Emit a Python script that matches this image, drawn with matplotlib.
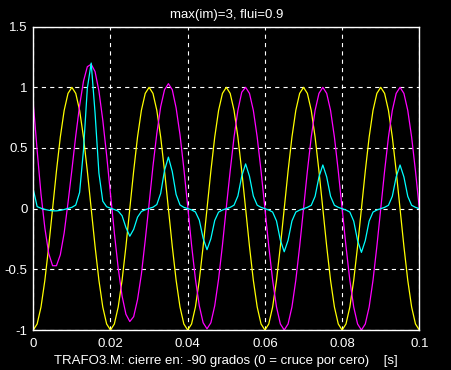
import numpy as np
import matplotlib
matplotlib.use('Agg')
import matplotlib.pyplot as plt

# sample times (s), 1 ms step
t = np.linspace(0, 0.1, 101)

# tension (yellow)
volt = [-1, -0.95, -0.81, -0.59, -0.31, 0, 0.31, 0.59, 0.81, 0.95,
        1, 0.95, 0.81, 0.59, 0.31, 0, -0.31, -0.59, -0.81, -0.95,
        -1, -0.95, -0.81, -0.59, -0.31, 0, 0.31, 0.59, 0.81, 0.95,
        1, 0.95, 0.81, 0.59, 0.31, 0, -0.31, -0.59, -0.81, -0.95,
        -1, -0.95, -0.81, -0.59, -0.31, 0, 0.31, 0.59, 0.81, 0.95,
        1, 0.95, 0.81, 0.59, 0.31, 0, -0.31, -0.59, -0.81, -0.95,
        -1, -0.95, -0.81, -0.59, -0.31, 0, 0.31, 0.59, 0.81, 0.95,
        1, 0.95, 0.81, 0.59, 0.31, 0, -0.31, -0.59, -0.81, -0.95,
        -1, -0.95, -0.81, -0.59, -0.31, 0, 0.31, 0.59, 0.81, 0.95,
        1, 0.95, 0.81, 0.59, 0.31, 0, -0.31, -0.59, -0.81, -0.95,
        -1]

# flujo (magenta)
flux = [0.87, 0.48, 0.12, -0.16, -0.37, -0.47, -0.47, -0.38, -0.20, 0.05,
        0.32, 0.60, 0.85, 1.05, 1.17, 1.19, 1.13, 0.97, 0.73, 0.44,
        0.12, -0.20, -0.49, -0.72, -0.87, -0.93, -0.89, -0.75, -0.54, -0.26,
        0.04, 0.35, 0.62, 0.84, 0.98, 1.03, 0.98, 0.83, 0.61, 0.33,
        0.02, -0.30, -0.58, -0.80, -0.94, -0.99, -0.94, -0.80, -0.58, -0.30,
        0.01, 0.31, 0.59, 0.81, 0.96, 1.00, 0.95, 0.81, 0.59, 0.31,
        0.00, -0.31, -0.59, -0.81, -0.95, -1.00, -0.95, -0.81, -0.59, -0.31,
        0.00, 0.31, 0.59, 0.81, 0.95, 1.00, 0.95, 0.81, 0.59, 0.31,
        0.00, -0.31, -0.59, -0.81, -0.95, -1.00, -0.95, -0.81, -0.59, -0.31,
        0.00, 0.31, 0.59, 0.81, 0.95, 1.00, 0.95, 0.81, 0.59, 0.31,
        0.00]

# corriente magnetizante (cyan)
imag = [0.16, 0.017, 0.004, -0.006, -0.013, -0.018, -0.018, -0.014, -0.007, 0.002,
        0.011, 0.030, 0.134, 0.482, 0.993, 1.20, 0.790, 0.293, 0.062, 0.016,
        0.004, -0.007, -0.020, -0.058, -0.155, -0.227, -0.170, -0.070, -0.023, -0.009,
        0.002, 0.012, 0.034, 0.126, 0.316, 0.425, 0.306, 0.117, 0.031, 0.011,
        0.001, -0.010, -0.027, -0.094, -0.244, -0.338, -0.247, -0.097, -0.028, -0.011,
        0.000, 0.011, 0.029, 0.105, 0.269, 0.369, 0.267, 0.104, 0.029, 0.011,
        0.000, -0.011, -0.028, -0.101, -0.259, -0.355, -0.260, -0.101, -0.028, -0.011,
        0.000, 0.011, 0.028, 0.102, 0.262, 0.360, 0.262, 0.102, 0.028, 0.011,
        0.000, -0.011, -0.028, -0.102, -0.262, -0.360, -0.262, -0.102, -0.028, -0.011,
        0.000, 0.011, 0.028, 0.102, 0.262, 0.360, 0.262, 0.102, 0.028, 0.011,
        0.000]

xticks = [0, 0.02, 0.04, 0.06, 0.08, 0.1]
xlabels = ['0', '0.02', '0.04', '0.06', '0.08', '0.1']
yticks = [-1, -0.5, 0, 0.5, 1, 1.5]
ylabels = ['-1', '-0.5', '0', '0.5', '1', '1.5']

plt.rcParams['font.family'] = ['Liberation Sans', 'DejaVu Sans']
plt.rcParams['lines.scale_dashes'] = False

fig = plt.figure(figsize=(4.51, 3.70), dpi=100, facecolor='black')
ax = fig.add_axes([0.0738, 0.108, 0.856, 0.820], facecolor='black')

ax.plot(t, volt, color='#ffff00', lw=0.9)
ax.plot(t, flux, color='#ff00ff', lw=0.9)
ax.plot(t, imag, color='#00ffff', lw=0.9)

ax.set_xlim(0, 0.1)
ax.set_ylim(-1, 1.5)
ax.set_xticks(xticks)
ax.set_xticklabels(xlabels)
ax.set_yticks(yticks)
ax.set_yticklabels(ylabels)
ax.grid(True, color='white', linestyle=(0, (3, 3)), lw=0.8)
ax.tick_params(colors='white', labelsize=9.5, direction='in', length=0)
ax.tick_params(axis='x', pad=6)
ax.tick_params(axis='y', pad=4)
for s in ax.spines.values():
    s.set_color('white')
    s.set_linewidth(1.0)

ax.set_title('max(im)=3, flui=0.9', color='white', fontsize=9.5, pad=6)
ax.set_xlabel('TRAFO3.M: cierre en: -90 grados (0 = cruce por cero)    [s]',
              color='white', fontsize=9.5, labelpad=3)

fig.savefig('out.png', dpi=100, facecolor='black')
